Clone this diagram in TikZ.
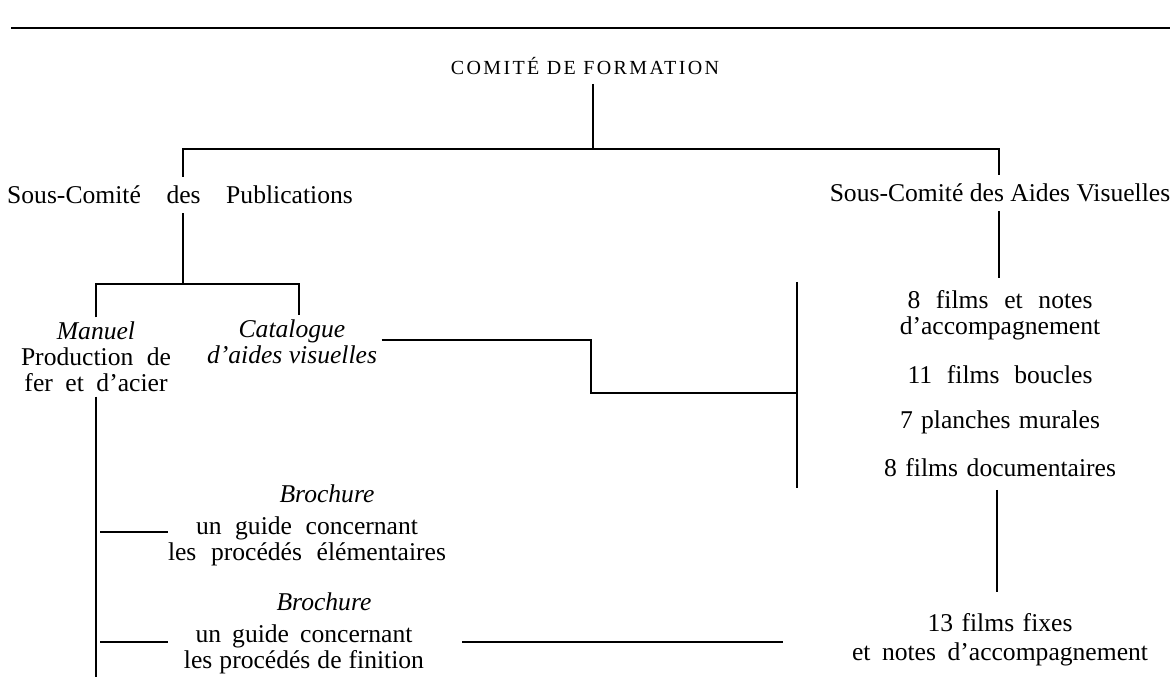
\documentclass[tikz,border=0pt]{standalone}
\usepackage{fontspec}
\setmainfont{Liberation Serif}
\usetikzlibrary{positioning, calc}
\tikzset{every picture/.style={font issue=\fontsize{12.8}{13}},
         font issue/.style={execute at begin picture={#1\selectfont}}
        }
\newcommand{\spread}[2]{\makebox[#1][s]{#2}}

\begin{document}
\begin{tikzpicture}[x=0.5pt, y=-0.5pt, line width=0.7pt,
  lbl/.style={align=center, inner sep=2pt},
  caps/.style={font=\fontsize{10}{11}\selectfont\addfontfeature{LetterSpace=12}}]
\useasboundingbox (0,0) rectangle (1175,679);
\coordinate (rulel) at (11,28);
\coordinate (ruler) at (1170,28);
\draw (rulel) -- (ruler);

\node[caps] (comite) at (585,66) {COMITÉ DE FORMATION};
\node (pub) at (180,195) {Sous-Comité\quad des\quad Publications};
\node (vis) at (1000,193) {Sous-Comité des Aides Visuelles};

%publications
\node[lbl] (manuel) at (96,357) {\textit{Manuel}\\\spread{75pt}{Production de}\\\spread{71.5pt}{fer et d'acier}};
\node[lbl] (catalogue) at (292,342) {\textit{Catalogue}\\\textit{d'aides visuelles}};
\node[lbl] (broch1) at (307,525) {\hspace*{20pt}\textit{Brochure}\\[3pt]\spread{111pt}{un guide concernant}\\\spread{139pt}{les procédés élémentaires}};
\node[lbl] (broch2) at (304,633) {\hspace*{20pt}\textit{Brochure}\\[3pt]\spread{108.5pt}{un guide concernant}\\\spread{120pt}{les procédés de finition}};

%aides visuelles
\node[lbl] (films) at (1000,315) {\spread{92.5pt}{8 films et notes}\\d'accompagnement};
\node (boucles) at (1000,375) {\spread{92.5pt}{11 films boucles}};
\node (planches) at (1000,422) {\spread{100pt}{7 planches murales}};
\node (docu) at (1000,468) {\spread{116pt}{8 films documentaires}};
\node[lbl] (fixes) at (1000,640) {\spread{72.5pt}{13 films fixes}\\[1.5pt]\spread{148pt}{et notes d'accompagnement}};

%junctions
\coordinate (mainbar) at (593,149);
\coordinate (pubtop) at (183,149);
\coordinate (vistop) at (999,149);
\coordinate (pubfork) at (183,284);
\coordinate (manfork) at (96,284);
\coordinate (catfork) at (299,284);
\coordinate (catstep) at (591,340);
\coordinate (catstepb) at (591,393);
\coordinate (bracket) at (797,393);
\coordinate (brtop) at (797,282);
\coordinate (brbot) at (797,488);
\coordinate (filmstop) at (999,278);
\coordinate (manbot) at (96,677);
\coordinate (b1l) at (100,532);
\coordinate (b1r) at (168,532);
\coordinate (b2l) at (100,642);
\coordinate (b2r) at (168,642);
\coordinate (b2e) at (462,642);
\coordinate (fixw) at (783,642);
\coordinate (fixtop) at (997,490);
\coordinate (fixbot) at (997,592);

%lines
\draw (comite.south -| mainbar) -- (mainbar);
\draw (pub.north -| pubtop) -- (pubtop) -- (vistop) -- (vis.north -| vistop);
\draw (pub.south -| pubfork) -- (pubfork);
\draw (manuel.north -| manfork) -- (manfork) -- (catfork) -- (catalogue.north -| catfork);
\draw (catalogue.east |- catstep) -- (catstep) -- (catstepb) -- (bracket);
\draw (brtop) -- (brbot);
\draw (vis.south -| vistop) -- (filmstop);
\draw (manuel.south -| manbot) -- (manbot);
\draw (b1l) -- (b1r);
\draw (b2l) -- (b2r);
\draw (b2e) -- (fixw);
\draw (fixtop) -- (fixbot);

\end{tikzpicture}
\end{document}
